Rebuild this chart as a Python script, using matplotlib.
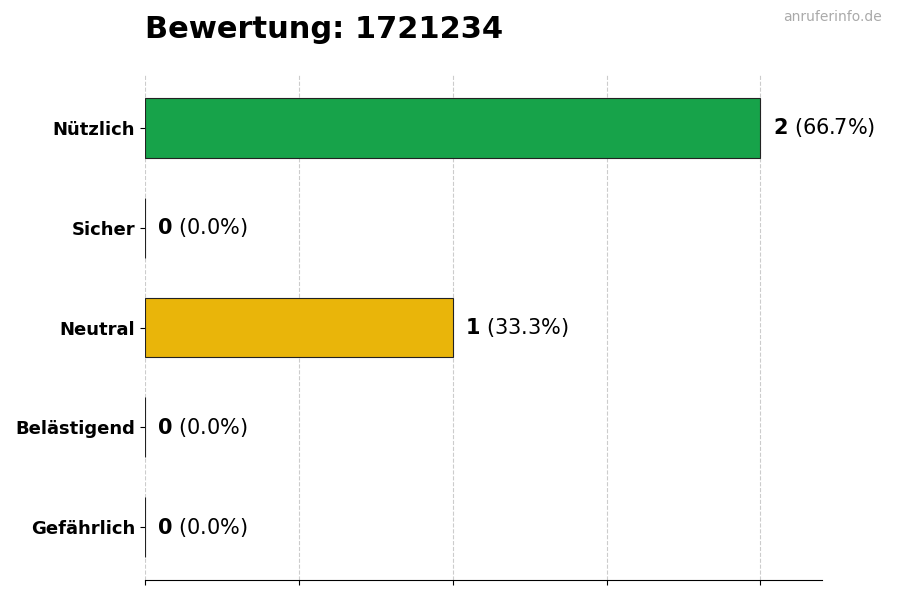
import matplotlib
matplotlib.use("Agg")
import matplotlib.pyplot as plt

categories = ["Nützlich", "Sicher", "Neutral", "Belästigend", "Gefährlich"]
counts = [2, 0, 1, 0, 0]
colors = ["#17a34a", "#2e9e5b", "#e9b50a", "#e07b1a", "#d62828"]
total = sum(counts)

fig = plt.figure(figsize=(9, 6), dpi=100)
ax = fig.add_axes([145/900, 20/600, 677/900, 505/600])
ypos = list(range(len(categories)))[::-1]
ax.barh(ypos, counts, height=0.6, color=colors, edgecolor="#222222", linewidth=0.8, zorder=3)
for y, c in zip(ypos, counts):
    pct = c / total * 100
    ax.text(c + 0.04, y, f"$\\bf{{{c}}}$ ({pct:.1f}%)", va="center", ha="left", fontsize=15)
ax.set_yticks(ypos)
ax.set_yticklabels(categories, fontsize=13, fontweight="bold")
ax.set_xlim(0, 2.2)
ax.set_ylim(-0.53, 4.53)
ax.set_xticks([0, 0.5, 1, 1.5, 2])
ax.set_xticklabels([])
ax.grid(axis="x", linestyle="--", color="#cccccc", linewidth=0.8, zorder=0)
for s in ["top", "right", "left"]:
    ax.spines[s].set_visible(False)
fig.text(145/900, 1 - 30/600, "Bewertung: 1721234", fontsize=22, fontweight="bold", va="center", ha="left")
fig.text(882/900, 1 - 17/600, "anruferinfo.de", fontsize=10, color="#aaaaaa", va="center", ha="right")
fig.savefig("out.png", dpi=100)
